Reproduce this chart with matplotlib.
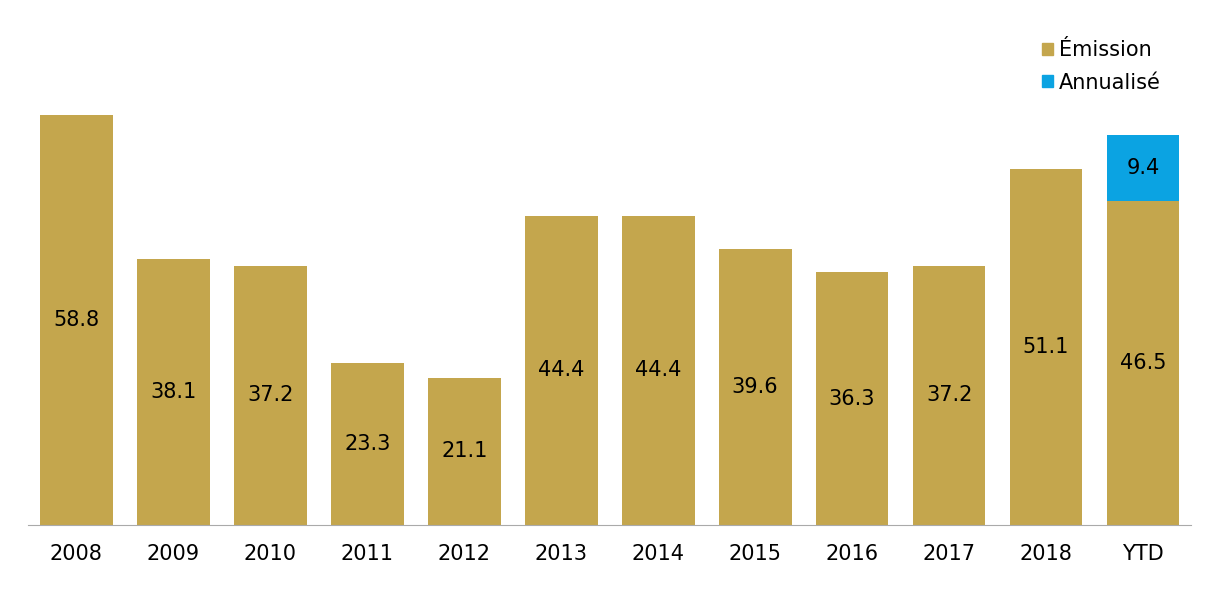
import matplotlib.pyplot as plt
from matplotlib.patches import Patch

years = ['2008', '2009', '2010', '2011', '2012', '2013', '2014', '2015',
         '2016', '2017', '2018', 'YTD']
emission = [58.8, 38.1, 37.2, 23.3, 21.1, 44.4, 44.4, 39.6, 36.3, 37.2, 51.1, 46.5]
annualise = [0, 0, 0, 0, 0, 0, 0, 0, 0, 0, 0, 9.4]

gold = '#C4A64D'
blue = '#0BA3E2'

fig = plt.figure(figsize=(12.1, 6.16), dpi=100)
ax = fig.add_axes([0.0231, 0.1477, 0.9616, 0.792])

x = range(len(years))
ax.bar(x, emission, width=0.75, color=gold)
ax.bar(x, annualise, width=0.75, bottom=emission, color=blue)

# étiquettes au centre de chaque segment
for i, v in enumerate(emission):
    ax.text(i, v / 2, '{:.1f}'.format(v), ha='center', va='center', fontsize=15)
for i, v in enumerate(annualise):
    if v > 0:
        ax.text(i, emission[i] + v / 2, '{:.1f}'.format(v), ha='center',
                va='center', fontsize=15)

ax.set_xlim(-0.5, len(years) - 0.5)
ax.set_ylim(0, 70)
ax.set_xticks(list(x))
ax.set_xticklabels(years, fontsize=15)
ax.tick_params(axis='x', length=0, pad=14)
ax.set_yticks([])
for s in ['top', 'right', 'left']:
    ax.spines[s].set_visible(False)
ax.spines['bottom'].set_color('#AAAAAA')

handles = [Patch(color=gold, label='Émission'), Patch(color=blue, label='Annualisé')]
fig.legend(handles=handles, loc='upper right', bbox_to_anchor=(0.975, 0.965),
           frameon=False, fontsize=15, handlelength=0.5, handleheight=0.5,
           handletextpad=0.3, labelspacing=0.6)

fig.savefig('out.png', dpi=100)
